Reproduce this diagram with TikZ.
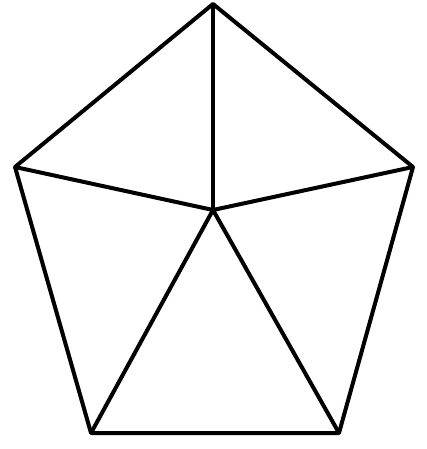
\documentclass[tikz,border=0pt]{standalone}
\begin{document}
\begin{tikzpicture}[x=1pt,y=-1pt,edge/.style={draw=black,line width=4pt,line join=round}]
\useasboundingbox (0,0) rectangle (427,449);
\coordinate (t) at (213,4);
\coordinate (l) at (15,167);
\coordinate (r) at (413,167);
\coordinate (bl) at (91,433);
\coordinate (br) at (339,433);
\coordinate (c) at (213,210);
\draw[edge] (t) -- (r) -- (br) -- (bl) -- (l) -- cycle;
\draw[edge] (c) -- (t);
\draw[edge] (c) -- (l);
\draw[edge] (c) -- (r);
\draw[edge] (c) -- (bl);
\draw[edge] (c) -- (br);
\end{tikzpicture}
\end{document}
